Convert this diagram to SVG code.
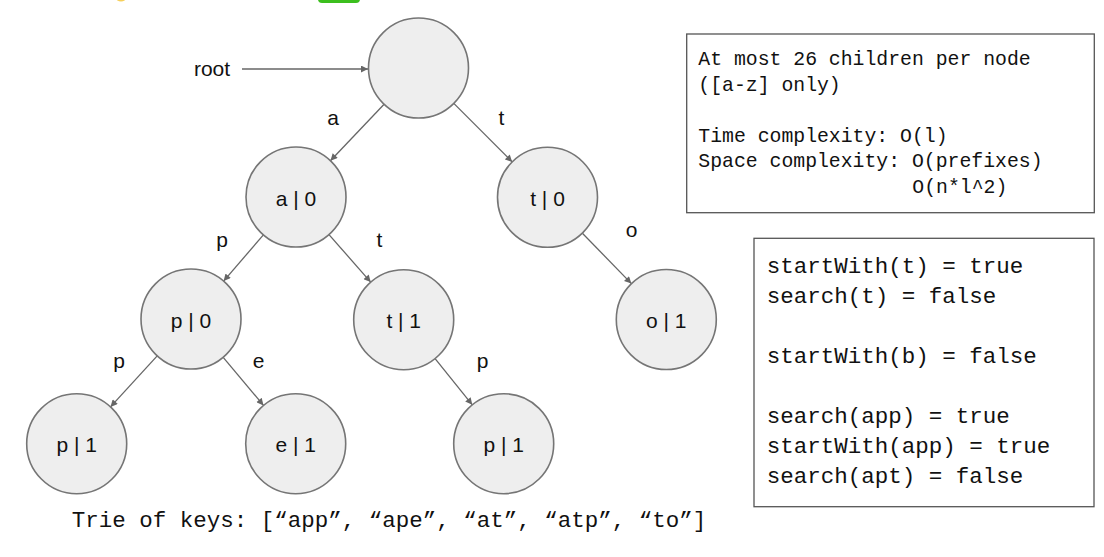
<svg xmlns="http://www.w3.org/2000/svg" width="1104" height="557" viewBox="0 0 1104 557">
<defs>
<marker id="arr" viewBox="0 0 10 10" refX="10" refY="5" markerWidth="8" markerHeight="7" markerUnits="userSpaceOnUse" orient="auto">
<path d="M0,0 L10,5 L0,10 z" fill="#666"/>
</marker>
<style>
.node circle{fill:#eeeeee;stroke:#757575;stroke-width:1.6}
.node text,.lbl{font-family:"Liberation Sans",Arial,sans-serif;font-size:21px;fill:#111;text-anchor:middle}
.edge{stroke:#666;stroke-width:1.3;fill:none;marker-end:url(#arr)}
.mono{font-family:"Liberation Mono","DejaVu Sans Mono",monospace;fill:#111}
.box{fill:#fff;stroke:#555;stroke-width:1.3}
</style>
</defs>
<rect width="1104" height="557" fill="#fff"/>
<g id="top-fragments">
<ellipse cx="121" cy="-2" rx="5" ry="3.5" fill="#f6cf5a"/>
<rect x="318" y="-8" width="42" height="11" rx="4" fill="#3cbf1e"/>
</g>
<g id="connectors">
<line class="edge" x1="242" y1="69" x2="368" y2="69"/>
<line class="edge" x1="384.1" y1="104.3" x2="330.4" y2="160.7"/>
<line class="edge" x1="453.8" y1="103.4" x2="512.2" y2="161.9"/>
<line class="edge" x1="263.4" y1="234.9" x2="223.6" y2="281.1"/>
<line class="edge" x1="329" y1="234.6" x2="370.7" y2="282.1"/>
<line class="edge" x1="582.4" y1="233.2" x2="631.4" y2="283.6"/>
<line class="edge" x1="157.2" y1="355.9" x2="110.5" y2="406.9"/>
<line class="edge" x1="223.2" y1="357.3" x2="263.5" y2="405.4"/>
<line class="edge" x1="435.1" y1="358.6" x2="472.3" y2="404.8"/>
</g>
<g id="edge-labels">
<text class="lbl" x="212" y="76">root</text>
<text class="lbl" x="333" y="125">a</text>
<text class="lbl" x="501.5" y="125">t</text>
<text class="lbl" x="222" y="247">p</text>
<text class="lbl" x="379.5" y="247">t</text>
<text class="lbl" x="631.5" y="237">o</text>
<text class="lbl" x="119" y="368">p</text>
<text class="lbl" x="258.5" y="368">e</text>
<text class="lbl" x="482.5" y="368">p</text>
</g>
<g id="node-root" class="node"><circle cx="418.5" cy="68" r="50"/></g>
<g id="node-a0" class="node"><circle cx="296" cy="197" r="50"/><text x="296" y="205.5">a | 0</text></g>
<g id="node-t0" class="node"><circle cx="547.5" cy="197.3" r="50"/><text x="547.5" y="205.5">t | 0</text></g>
<g id="node-p0" class="node"><circle cx="191" cy="319" r="50"/><text x="191" y="327.5">p | 0</text></g>
<g id="node-t1" class="node"><circle cx="403.7" cy="319.7" r="50"/><text x="403.7" y="327.5">t | 1</text></g>
<g id="node-o1" class="node"><circle cx="666.3" cy="319.5" r="50"/><text x="666.3" y="327.5">o | 1</text></g>
<g id="node-p1a" class="node"><circle cx="76.7" cy="443.7" r="50"/><text x="76.7" y="452">p | 1</text></g>
<g id="node-e1" class="node"><circle cx="295.7" cy="443.7" r="50"/><text x="295.7" y="452">e | 1</text></g>
<g id="node-p1b" class="node"><circle cx="503.7" cy="443.7" r="50"/><text x="503.7" y="452">p | 1</text></g>
<g id="note-complexity">
<rect class="box" x="686.7" y="34" width="407.6" height="178.7"/>
<text class="mono" font-size="19.8">
<tspan x="698.3" y="65">At most 26 children per node</tspan>
<tspan x="698.3" y="90.5">([a-z] only)</tspan>
<tspan x="698.3" y="141.5">Time complexity: O(l)</tspan>
<tspan x="698.3" y="167">Space complexity: O(prefixes)</tspan>
<tspan x="912.3" y="192.5">O(n*l^2)</tspan>
</text>
</g>
<g id="note-examples">
<rect class="box" x="754" y="238.3" width="340" height="268.4"/>
<text class="mono" font-size="22.5">
<tspan x="766.7" y="273.3">startWith(t) = true</tspan>
<tspan x="766.7" y="303.3">search(t) = false</tspan>
<tspan x="766.7" y="363.3">startWith(b) = false</tspan>
<tspan x="766.7" y="423.3">search(app) = true</tspan>
<tspan x="766.7" y="453.3">startWith(app) = true</tspan>
<tspan x="766.7" y="483.3">search(apt) = false</tspan>
</text>
</g>
<g id="caption">
<text class="mono" font-size="22.5" x="71.7" y="526.7">Trie of keys: [“app”, “ape”, “at”, “atp”, “to”]</text>
</g>
</svg>
